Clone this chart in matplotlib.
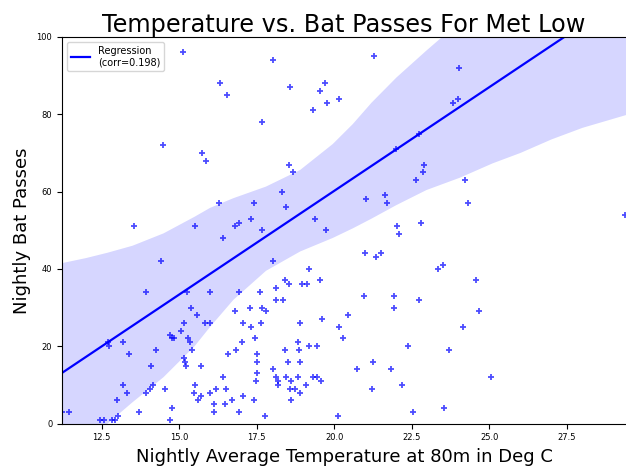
import matplotlib
matplotlib.use("Agg")
import matplotlib.pyplot as plt
import numpy as np

# Nightly average temperature at 80 m (deg C) and nightly bat passes
temps = [
    11.24, 11.46, 12.45, 12.59, 12.85, 12.92, 13.04, 13.01, 13.20, 13.31,
    13.72, 12.72, 12.74, 13.18, 13.38, 13.93, 14.41, 14.11, 14.27, 14.17,
    14.06, 13.93, 14.54, 14.78, 14.70, 14.70, 14.78, 14.82, 15.06, 15.17,
    15.26, 15.37, 15.58, 15.29, 15.35, 15.43, 15.16, 15.18, 15.21, 15.72,
    15.51, 15.47, 15.71, 15.61, 15.99, 16.18, 16.50, 16.13, 16.47, 16.69,
    16.13, 16.93, 17.07, 17.42, 16.42, 16.57, 16.82, 17.03, 17.44, 17.51,
    17.51, 17.51, 17.49, 15.83, 16.01, 15.99, 16.42, 16.79, 16.92, 17.27,
    17.05, 17.32, 17.64, 17.67, 17.81, 17.62, 18.13, 18.13, 18.36, 18.02,
    18.41, 18.54, 18.97, 19.13, 19.20, 19.54, 18.89, 19.61, 20.45, 20.15,
    20.27, 18.84, 18.42, 18.85, 19.20, 19.44, 18.50, 18.88, 18.04, 18.13,
    18.20, 18.18, 18.45, 18.62, 18.83, 19.31, 19.44, 19.56, 19.10, 18.58,
    18.75, 18.88, 18.62, 17.76, 20.11, 20.73, 21.24, 21.84, 22.36, 21.21,
    22.18, 22.53, 20.95, 21.91, 21.91, 22.74, 21.00, 21.35, 21.52, 22.07,
    23.33, 23.49, 24.56, 24.67, 24.15, 23.71, 25.05, 23.54,
    15.11, 16.33, 16.54, 14.47, 15.75, 15.88, 16.28, 17.40, 13.55, 15.51,
    16.79, 16.93, 17.33, 18.02, 21.28, 18.56, 19.70, 19.53, 19.77, 20.15,
    19.33, 17.68, 18.54, 18.67, 18.33, 18.45, 17.68, 19.37, 19.72, 21.03,
    21.64, 21.70, 22.62, 22.85, 22.88, 22.74, 22.00, 22.01, 22.78, 24.03,
    23.81, 24.00, 24.21, 24.31, 29.36,
]
passes = [
    3, 3, 1, 1, 1, 1, 2, 6, 10, 8,
    3, 21, 20, 21, 18, 34, 42, 15, 19, 10,
    9, 8, 9, 4, 1, 23, 22, 22, 24, 26,
    34, 30, 28, 22, 21, 19, 17, 16, 15, 15,
    10, 8, 7, 6, 8, 9, 9, 5, 5, 6,
    3, 3, 7, 6, 12, 18, 19, 21, 22, 18,
    16, 13, 11, 26, 26, 34, 48, 29, 34, 30,
    26, 25, 26, 30, 29, 34, 35, 32, 32, 42,
    37, 36, 36, 36, 40, 37, 26, 27, 28, 25,
    22, 21, 19, 19, 20, 20, 16, 16, 14, 12,
    11, 10, 12, 11, 12, 12, 12, 11, 10, 9,
    9, 8, 6, 2, 2, 14, 16, 14, 20, 9,
    10, 3, 33, 33, 30, 32, 44, 43, 44, 49,
    40, 41, 37, 29, 25, 19, 12, 4,
    96, 88, 85, 72, 70, 68, 57, 57, 51, 51,
    51, 52, 53, 94, 95, 87, 88, 86, 83, 84,
    81, 78, 67, 65, 60, 56, 50, 53, 50, 58,
    59, 57, 63, 65, 67, 75, 71, 51, 52, 92,
    83, 84, 63, 57, 54,
]

# Fitted regression line
slope = 5.37
intercept = -47.2
corr = 0.198

# Confidence band around the regression line
band_x = [11.23, 12.0, 12.7, 13.5, 14.5, 15.5, 16.0, 16.75, 17.8, 18.9,
          19.95, 20.6, 21.2, 22.0, 22.97, 24.05, 25.1, 26.0, 27.0, 28.0,
          29.4]
band_lower = [-9, -4.5, 0, 5.5, 12, 20, 25, 32, 39.5, 44.5,
              48, 50.5, 53, 56.5, 60.4, 63.6, 67.3, 70, 73.5, 76.5,
              79.8]
band_upper = [41.5, 42.8, 44.2, 46, 49.2, 53.5, 55.8, 58.3, 61.3, 65.6,
              72.3, 77.5, 83, 89.5, 96.5, 104, 111, 118, 125, 132,
              143]

x_ticks = [12.5, 15.0, 17.5, 20.0, 22.5, 25.0, 27.5]
y_ticks = [0, 20, 40, 60, 80, 100]

fig = plt.figure(figsize=(6.26, 4.67), dpi=100)
ax = fig.add_axes([62 / 626, 43.5 / 467, 1 - 62 / 626, 386.5 / 467])

ax.fill_between(band_x, band_lower, band_upper, color="blue", alpha=0.16,
                linewidth=0)
ax.scatter(temps, passes, marker="+", s=24, linewidths=1.3, color="blue",
           alpha=0.7)
xs = np.array([band_x[0], band_x[-1]])
ax.plot(xs, intercept + slope * xs, color="blue", linewidth=1.6,
        label=f"Regression\n(corr={corr})")

ax.set_xlim(11.227, 29.40)
ax.set_ylim(0, 100)
ax.set_xticks(x_ticks)
ax.set_xticklabels([f"{t:.1f}" for t in x_ticks])
ax.set_yticks(y_ticks)
ax.tick_params(labelsize=6)
ax.spines["right"].set_visible(False)

ax.set_title("Temperature vs. Bat Passes For Met Low", fontsize=17.3, pad=3)
ax.set_xlabel("Nightly Average Temperature at 80m in Deg C", fontsize=13)
ax.set_ylabel("Nightly Bat Passes", fontsize=13)
ax.legend(loc="upper left", fontsize=7)

fig.savefig("out.png", dpi=100)
